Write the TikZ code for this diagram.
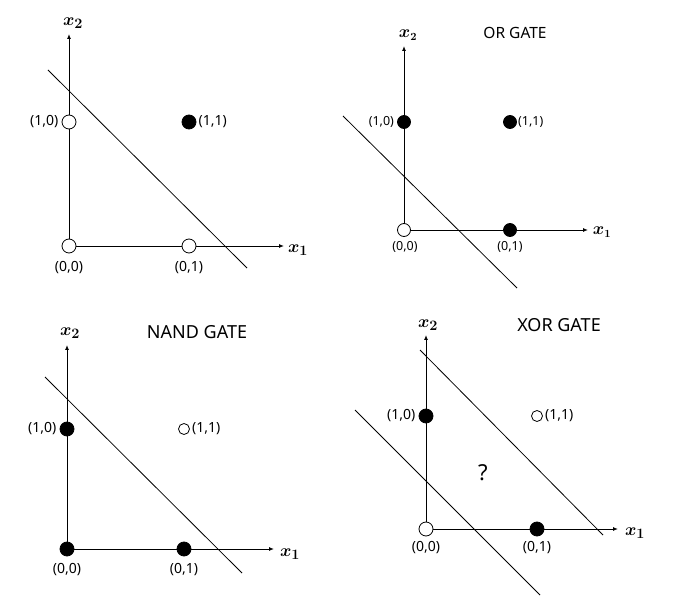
\documentclass[tikz,border=0pt]{standalone}
\usepackage{fontspec}
\setmainfont{Noto Sans}
\usepackage{amsmath}
\usepackage{bm}
\usetikzlibrary{arrows.meta,positioning}
\begin{document}
\begin{tikzpicture}[x=1pt,y=-1pt,
  axis/.style={line width=0.9pt,-{Latex[length=5pt,width=4pt]}},
  sep/.style={line width=0.8pt},
  full/.style={circle,draw=black,fill=black,line width=0.8pt,minimum size=14pt,inner sep=0pt},
  hollow/.style={circle,draw=black,fill=white,line width=0.8pt,minimum size=14pt,inner sep=0pt},
  smallhollow/.style={circle,draw=black,fill=white,line width=0.8pt,minimum size=11pt,inner sep=0pt},
  lbl/.style={font=\fontsize{14}{16}\selectfont,inner sep=0pt},
  axlbl/.style={font=\fontsize{19}{21}\selectfont,inner sep=0pt},
  title/.style={font=\fontsize{18}{21}\selectfont,inner sep=0pt}]
\useasboundingbox (0,0) rectangle (699,612);
% ---------- Panel 1 ----------
\coordinate (o1) at (69,246);
\coordinate (y1) at (69,34);
\coordinate (x1) at (284,246);
\draw[axis] (o1) -- (y1);
\draw[axis] (o1) -- (x1);
\coordinate (l1a) at (48,70);
\coordinate (l1b) at (247,268);
\draw[sep] (l1a) -- (l1b);
\node[hollow] (p1a) at (69,246) {};
\node[hollow] (p1b) at (69,122) {};
\node[full] (p1c) at (189,122) {};
\node[hollow] (p1d) at (189,246) {};
\node[lbl] (t1a) at (69,268) {(0,0)};
\node[lbl,left=3pt of p1b] (t1b) {(1,0)};
\node[lbl,right=2pt of p1c] (t1c) {(1,1)};
\node[lbl] (t1d) at (189,268) {(0,1)};
\node[axlbl] (ax1a) at (73,23) {$\bm{x_2}$};
\node[axlbl] (ax1b) at (298,250) {$\bm{x_1}$};
% ---------- Panel 2 ----------
\coordinate (o2) at (404,230);
\coordinate (y2) at (404,46);
\coordinate (x2) at (588,230);
\draw[axis] (o2) -- (y2);
\draw[axis] (o2) -- (x2);
\coordinate (l2a) at (343,116);
\coordinate (l2b) at (517,288);
\draw[sep] (l2a) -- (l2b);
\node[hollow,minimum size=13pt] (p2a) at (404,230) {};
\node[full,minimum size=13pt] (p2b) at (404,122) {};
\node[full,minimum size=13pt] (p2c) at (510,122) {};
\node[full,minimum size=13pt] (p2d) at (510,230) {};
\node[lbl,font=\fontsize{12.5}{14}\selectfont] (t2a) at (405,247) {(0,0)};
\node[lbl,font=\fontsize{12.5}{14}\selectfont,left=3pt of p2b] (t2b) {(1,0)};
\node[lbl,font=\fontsize{12.5}{14}\selectfont,right=1pt of p2c] (t2c) {(1,1)};
\node[lbl,font=\fontsize{12.5}{14}\selectfont] (t2d) at (510,247) {(0,1)};
\node[axlbl,font=\fontsize{16}{18}\selectfont] (ax2a) at (408,35) {$\bm{x_2}$};
\node[axlbl,font=\fontsize{16}{18}\selectfont] (ax2b) at (602,232) {$\bm{x_1}$};
\node[title,font=\fontsize{15.5}{18}\selectfont] (g2) at (515,33) {OR GATE};
% ---------- Panel 3 ----------
\coordinate (o3) at (67,549);
\coordinate (y3) at (67,345);
\coordinate (x3) at (274,549);
\draw[axis] (o3) -- (y3);
\draw[axis] (o3) -- (x3);
\coordinate (l3a) at (45,377);
\coordinate (l3b) at (242,573);
\draw[sep] (l3a) -- (l3b);
\node[full] (p3a) at (67,549) {};
\node[full] (p3b) at (67,429) {};
\node[smallhollow] (p3c) at (184,429) {};
\node[full] (p3d) at (184,549) {};
\node[lbl] (t3a) at (67,570) {(0,0)};
\node[lbl,left=3pt of p3b] (t3b) {(1,0)};
\node[lbl,right=2pt of p3c] (t3c) {(1,1)};
\node[lbl] (t3d) at (184,570) {(0,1)};
\node[axlbl] (ax3a) at (70,333) {$\bm{x_2}$};
\node[axlbl] (ax3b) at (290,554) {$\bm{x_1}$};
\node[title] (g3) at (197,332) {NAND GATE};
% ---------- Panel 4 ----------
\coordinate (o4) at (426,529);
\coordinate (y4) at (426,335);
\coordinate (x4) at (618,529);
\draw[axis] (o4) -- (y4);
\draw[axis] (o4) -- (x4);
\coordinate (l4a) at (355,410);
\coordinate (l4b) at (540,595);
\draw[sep] (l4a) -- (l4b);
\coordinate (l4c) at (420,350);
\coordinate (l4d) at (603,535);
\draw[sep] (l4c) -- (l4d);
\node[hollow] (p4a) at (426,529) {};
\node[full] (p4b) at (426,416) {};
\node[smallhollow] (p4c) at (537,416) {};
\node[full] (p4d) at (537,529) {};
\node[lbl] (t4a) at (426,548) {(0,0)};
\node[lbl,left=3pt of p4b] (t4b) {(1,0)};
\node[lbl,right=2pt of p4c] (t4c) {(1,1)};
\node[lbl] (t4d) at (537,548) {(0,1)};
\node[axlbl] (ax4a) at (428,325) {$\bm{x_2}$};
\node[axlbl] (ax4b) at (635,533) {$\bm{x_1}$};
\node[title] (g4) at (559,325) {XOR GATE};
\node[title,font=\fontsize{22}{24}\selectfont] (q4) at (483,473) {?};
\end{tikzpicture}
\end{document}
